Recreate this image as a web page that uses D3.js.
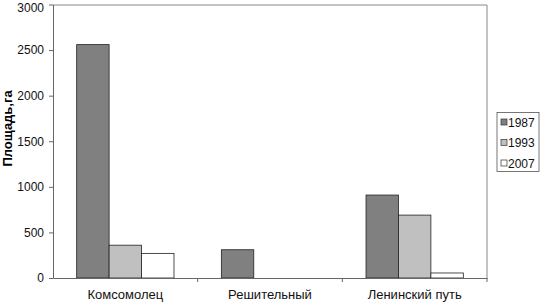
<!DOCTYPE html>
<html>
<head>
<meta charset="utf-8">
<script src="https://cdn.jsdelivr.net/npm/d3@7"></script>
<style>
  body { margin: 0; background: #fff; }
  svg { font-family: Arial, "Liberation Sans", sans-serif; }
</style>
</head>
<body>
<div id="chart"></div>
<script>
var farms = ["Комсомолец", "Решительный", "Ленинский путь"];
var years = ["1987", "1993", "2007"];
var area1987 = [2560, 310, 910];
var area1993 = [360, 0, 690];
var area2007 = [270, 0, 55];
var yTicks = [0, 500, 1000, 1500, 2000, 2500, 3000];

var colors = ["#808080", "#c0c0c0", "#ffffff"];
var series = [area1987, area1993, area2007];

var margin = {top: 4.5, right: 54, bottom: 27, left: 53},
    width = 541 - margin.left - margin.right,
    height = 305 - margin.top - margin.bottom;

var svg = d3.select("#chart")
  .append("svg")
    .attr("width", 541)
    .attr("height", 305)
  .append("g")
    .attr("transform", "translate(" + margin.left + "," + margin.top + ")");

var x = d3.scaleBand()
  .domain(farms)
  .range([0, width]);

var x1 = d3.scaleBand()
  .domain(years)
  .range([0, x.bandwidth()])
  .paddingInner(0)
  .paddingOuter(0.73);

var y = d3.scaleLinear()
  .domain([0, 3000])
  .range([height, 0]);

// frame (top and right)
svg.append("path")
  .attr("d", "M0,0.5H" + width + "V" + height)
  .attr("fill", "none")
  .attr("stroke", "#888")
  .attr("stroke-width", 1);

// bars
farms.forEach(function(f, i) {
  svg.append("g")
    .selectAll("rect")
    .data(years)
    .enter().append("rect")
      .attr("x", function(d) { return x(f) + x1(d); })
      .attr("y", function(d, j) { return y(series[j][i]); })
      .attr("width", x1.bandwidth())
      .attr("height", function(d, j) { return height - y(series[j][i]); })
      .attr("fill", function(d, j) { return colors[j]; })
      .attr("stroke", function(d, j) { return series[j][i] > 0 ? "#222" : "none"; })
      .attr("stroke-width", 0.8);
});

// y axis
var yAxis = svg.append("g")
  .call(d3.axisLeft(y).tickValues(yTicks).tickFormat(d3.format("d")).tickSize(4).tickSizeOuter(0));
yAxis.select(".domain").attr("stroke", "#666");
yAxis.selectAll(".tick line").attr("stroke", "#666");
yAxis.selectAll("text")
  .attr("x", -9)
  .attr("dy", function(d) { return d === 3000 ? "0.55em" : "0.32em"; })
  .style("font-size", "12px")
  .attr("fill", "#111");

// x axis
var xAxis = svg.append("g")
  .attr("transform", "translate(0," + height + ")")
  .call(d3.axisBottom(x).tickSize(0).tickSizeOuter(0));
xAxis.select(".domain").attr("stroke", "#666");
xAxis.selectAll("text").attr("dy", "1.4em").style("font-size", "13px").attr("fill", "#111");
svg.append("g")
  .selectAll("line")
  .data(farms.slice(1))
  .enter().append("line")
    .attr("x1", function(d) { return x(d); })
    .attr("x2", function(d) { return x(d); })
    .attr("y1", height)
    .attr("y2", height + 4)
    .attr("stroke", "#666");
svg.append("line")
  .attr("x1", width).attr("x2", width)
  .attr("y1", height).attr("y2", height + 4)
  .attr("stroke", "#666");

// y label
svg.append("text")
  .attr("transform", "translate(" + (-41) + "," + 124 + ")rotate(-90)")
  .attr("text-anchor", "middle")
  .style("font-size", "13px")
  .style("font-weight", "bold")
  .text("Площадь,га");

// legend
var legend = d3.select("svg").append("g")
  .attr("transform", "translate(497,112.5)");
legend.append("rect")
  .attr("width", 42)
  .attr("height", 59)
  .attr("fill", "#fff")
  .attr("stroke", "#555")
  .attr("stroke-width", 0.8);
years.forEach(function(yr, i) {
  var row = legend.append("g").attr("transform", "translate(0," + (10 + i * 20.5) + ")");
  row.append("rect")
    .attr("x", 4).attr("y", -3.5)
    .attr("width", 6).attr("height", 6)
    .attr("fill", colors[i])
    .attr("stroke", "#333")
    .attr("stroke-width", 0.7);
  row.append("text")
    .attr("x", 11)
    .attr("y", 0)
    .attr("dy", "0.35em")
    .style("font-size", "12px")
    .attr("fill", "#111")
    .text(yr);
});
</script>
</body>
</html>
